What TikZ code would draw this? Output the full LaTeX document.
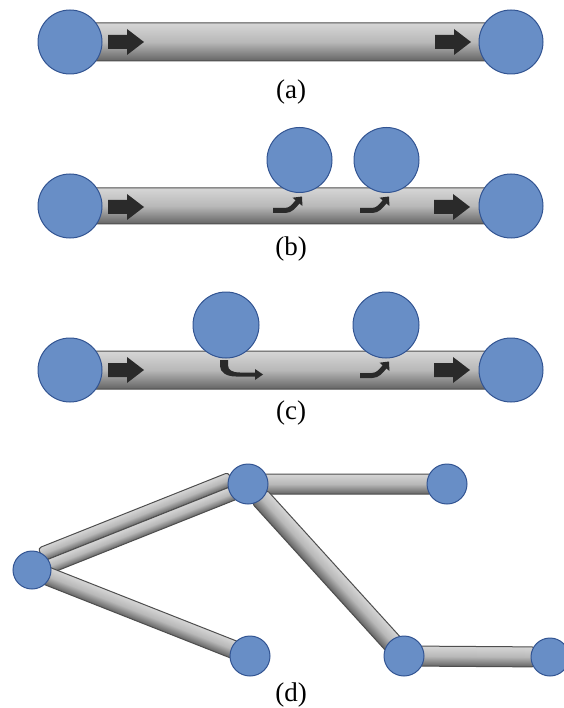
\documentclass[tikz,border=0pt]{standalone}
\usepackage{fontspec}
\setmainfont{Liberation Serif}
\usetikzlibrary{arrows.meta}

\definecolor{nodefill}{RGB}{104,142,198}
\definecolor{nodeedge}{RGB}{50,84,146}
\definecolor{tubetop}{RGB}{214,214,214}
\definecolor{tubemid}{RGB}{184,184,184}
\definecolor{tubebot}{RGB}{100,100,100}
\definecolor{tubeedge}{RGB}{78,78,78}
\definecolor{flowcol}{RGB}{42,42,42}

\pgfdeclarelayer{tubes}
\pgfsetlayers{tubes,main}

\tikzset{
  junction/.style={circle, draw=nodeedge, line width=1pt, fill=nodefill,
    inner sep=0pt, minimum size=#1},
  junction/.default=64pt,
  tubebody/.style={top color=tubetop, bottom color=tubebot, middle color=tubemid,
    draw=tubeedge, line width=1pt, rounded corners=3pt},
  caption/.style={font=\fontsize{27}{30}\selectfont, inner sep=0pt},
  flowfill/.style={fill=flowcol, draw=none},
  hookflow/.style={draw=flowcol, line width=5pt, -{Triangle[width=12.5pt,length=7pt]}},
  % straight block arrow along a pipe
  pics/flowright/.style={code={
    \fill[flowfill] (-18,-7) -- (1,-7) -- (1,-13) -- (18,0) -- (1,13) -- (1,7) -- (-18,7) -- cycle;}},
  % flow leaving the pipe upwards into a junction
  pics/hookup/.style={code={
    \draw[hookflow] (0,0) -- (12,0) .. controls (18,0) and (21,-4.5) .. (29,-14);}},
  % flow entering the pipe from a junction above
  pics/hookdown/.style={code={
    \fill[flowfill] (0,0) -- (8,0) -- (8,5) .. controls (8,10) and (12,12.5) .. (20,12.5)
      -- (35,12.5) -- (35,16.5) -- (16,16.5) .. controls (6,16.5) and (0,12) .. (0,6) -- cycle;
    \fill[flowfill] (35,9) -- (43,14.5) -- (35,20) -- cycle;}},
}

% shaded pipe between two named nodes:
% {from}{to}{width}{inset at from}{inset at to}{sideways shift}
\newcommand{\tubelink}[6]{%
  \pgfpointdiff{\pgfpointanchor{#1}{center}}{\pgfpointanchor{#2}{center}}%
  \pgfgetlastxy{\tubedx}{\tubedy}%
  \pgfmathsetmacro{\tubeang}{atan2(\tubedy,\tubedx)}%
  \pgfmathsetmacro{\tubelen}{veclen(\tubedx,\tubedy)}%
  \pgfmathsetmacro{\tubelo}{#6-#3/2}%
  \pgfmathsetmacro{\tubehi}{#6+#3/2}%
  \pgfmathsetmacro{\tubeend}{\tubelen-#5}%
  \begin{scope}[transform canvas={shift={(#1.center)}, rotate=\tubeang}]
    \path[tubebody] (#4pt,\tubelo pt) rectangle (\tubeend pt,\tubehi pt);
  \end{scope}%
}

\begin{document}
\begin{tikzpicture}[x=1pt,y=-1pt]
\useasboundingbox (0,0) rectangle (563,708);

% ---------- (a) single pipe ----------
\node[junction] (a1) at (70,42) {};
\node[junction] (a2) at (511,42) {};
\begin{pgfonlayer}{tubes}
  \tubelink{a1}{a2}{38}{23}{21}{0}
\end{pgfonlayer}
\pic at (126,42) {flowright};
\pic at (453,42) {flowright};
\node[caption] (capa) at (291,92) {(a)};

% ---------- (b) two outlets ----------
\node[junction] (b1) at (70,206) {};
\node[junction] (b2) at (511,206) {};
\node[junction=65pt] (b3) at (299.5,160) {};
\node[junction=65pt] (b4) at (386.5,160) {};
\begin{pgfonlayer}{tubes}
  \tubelink{b1}{b2}{36}{23}{21}{0}
\end{pgfonlayer}
\pic at (126,207) {flowright};
\pic at (452,207) {flowright};
\pic at (273,210.5) {hookup};
\pic at (360,210.5) {hookup};
\node[caption] (capb) at (291,249) {(b)};

% ---------- (c) inlet and outlet ----------
\node[junction] (c1) at (70,370) {};
\node[junction] (c2) at (511,370) {};
\node[junction=66pt] (c3) at (226,325) {};
\node[junction=66pt] (c4) at (386,325) {};
\begin{pgfonlayer}{tubes}
  \tubelink{c1}{c2}{38}{23}{21}{0}
\end{pgfonlayer}
\pic at (126,370) {flowright};
\pic at (452,370) {flowright};
\pic at (220,360) {hookdown};
\pic at (360,375.5) {hookup};
\node[caption] (capc) at (291,413) {(c)};

% ---------- (d) pipe network ----------
\node[junction=38pt] (dA) at (32,570) {};
\node[junction=40pt] (dB) at (248,484) {};
\node[junction=40pt] (dC) at (447,484) {};
\node[junction=40pt] (dD) at (250,656) {};
\node[junction=40pt] (dE) at (404,656) {};
\node[junction=38pt] (dF) at (550,657) {};
\begin{pgfonlayer}{tubes}
  \tubelink{dA}{dB}{14}{14}{14}{11}
  \tubelink{dA}{dB}{14}{14}{14}{-3}
  \tubelink{dA}{dD}{18}{14}{15}{0}
  \tubelink{dB}{dC}{20}{15}{15}{0}
  \tubelink{dB}{dE}{20}{17}{15}{0}
  \tubelink{dE}{dF}{20}{15}{15}{0}
\end{pgfonlayer}
\node[caption] (capd) at (291,695) {(d)};
\end{tikzpicture}
\end{document}
